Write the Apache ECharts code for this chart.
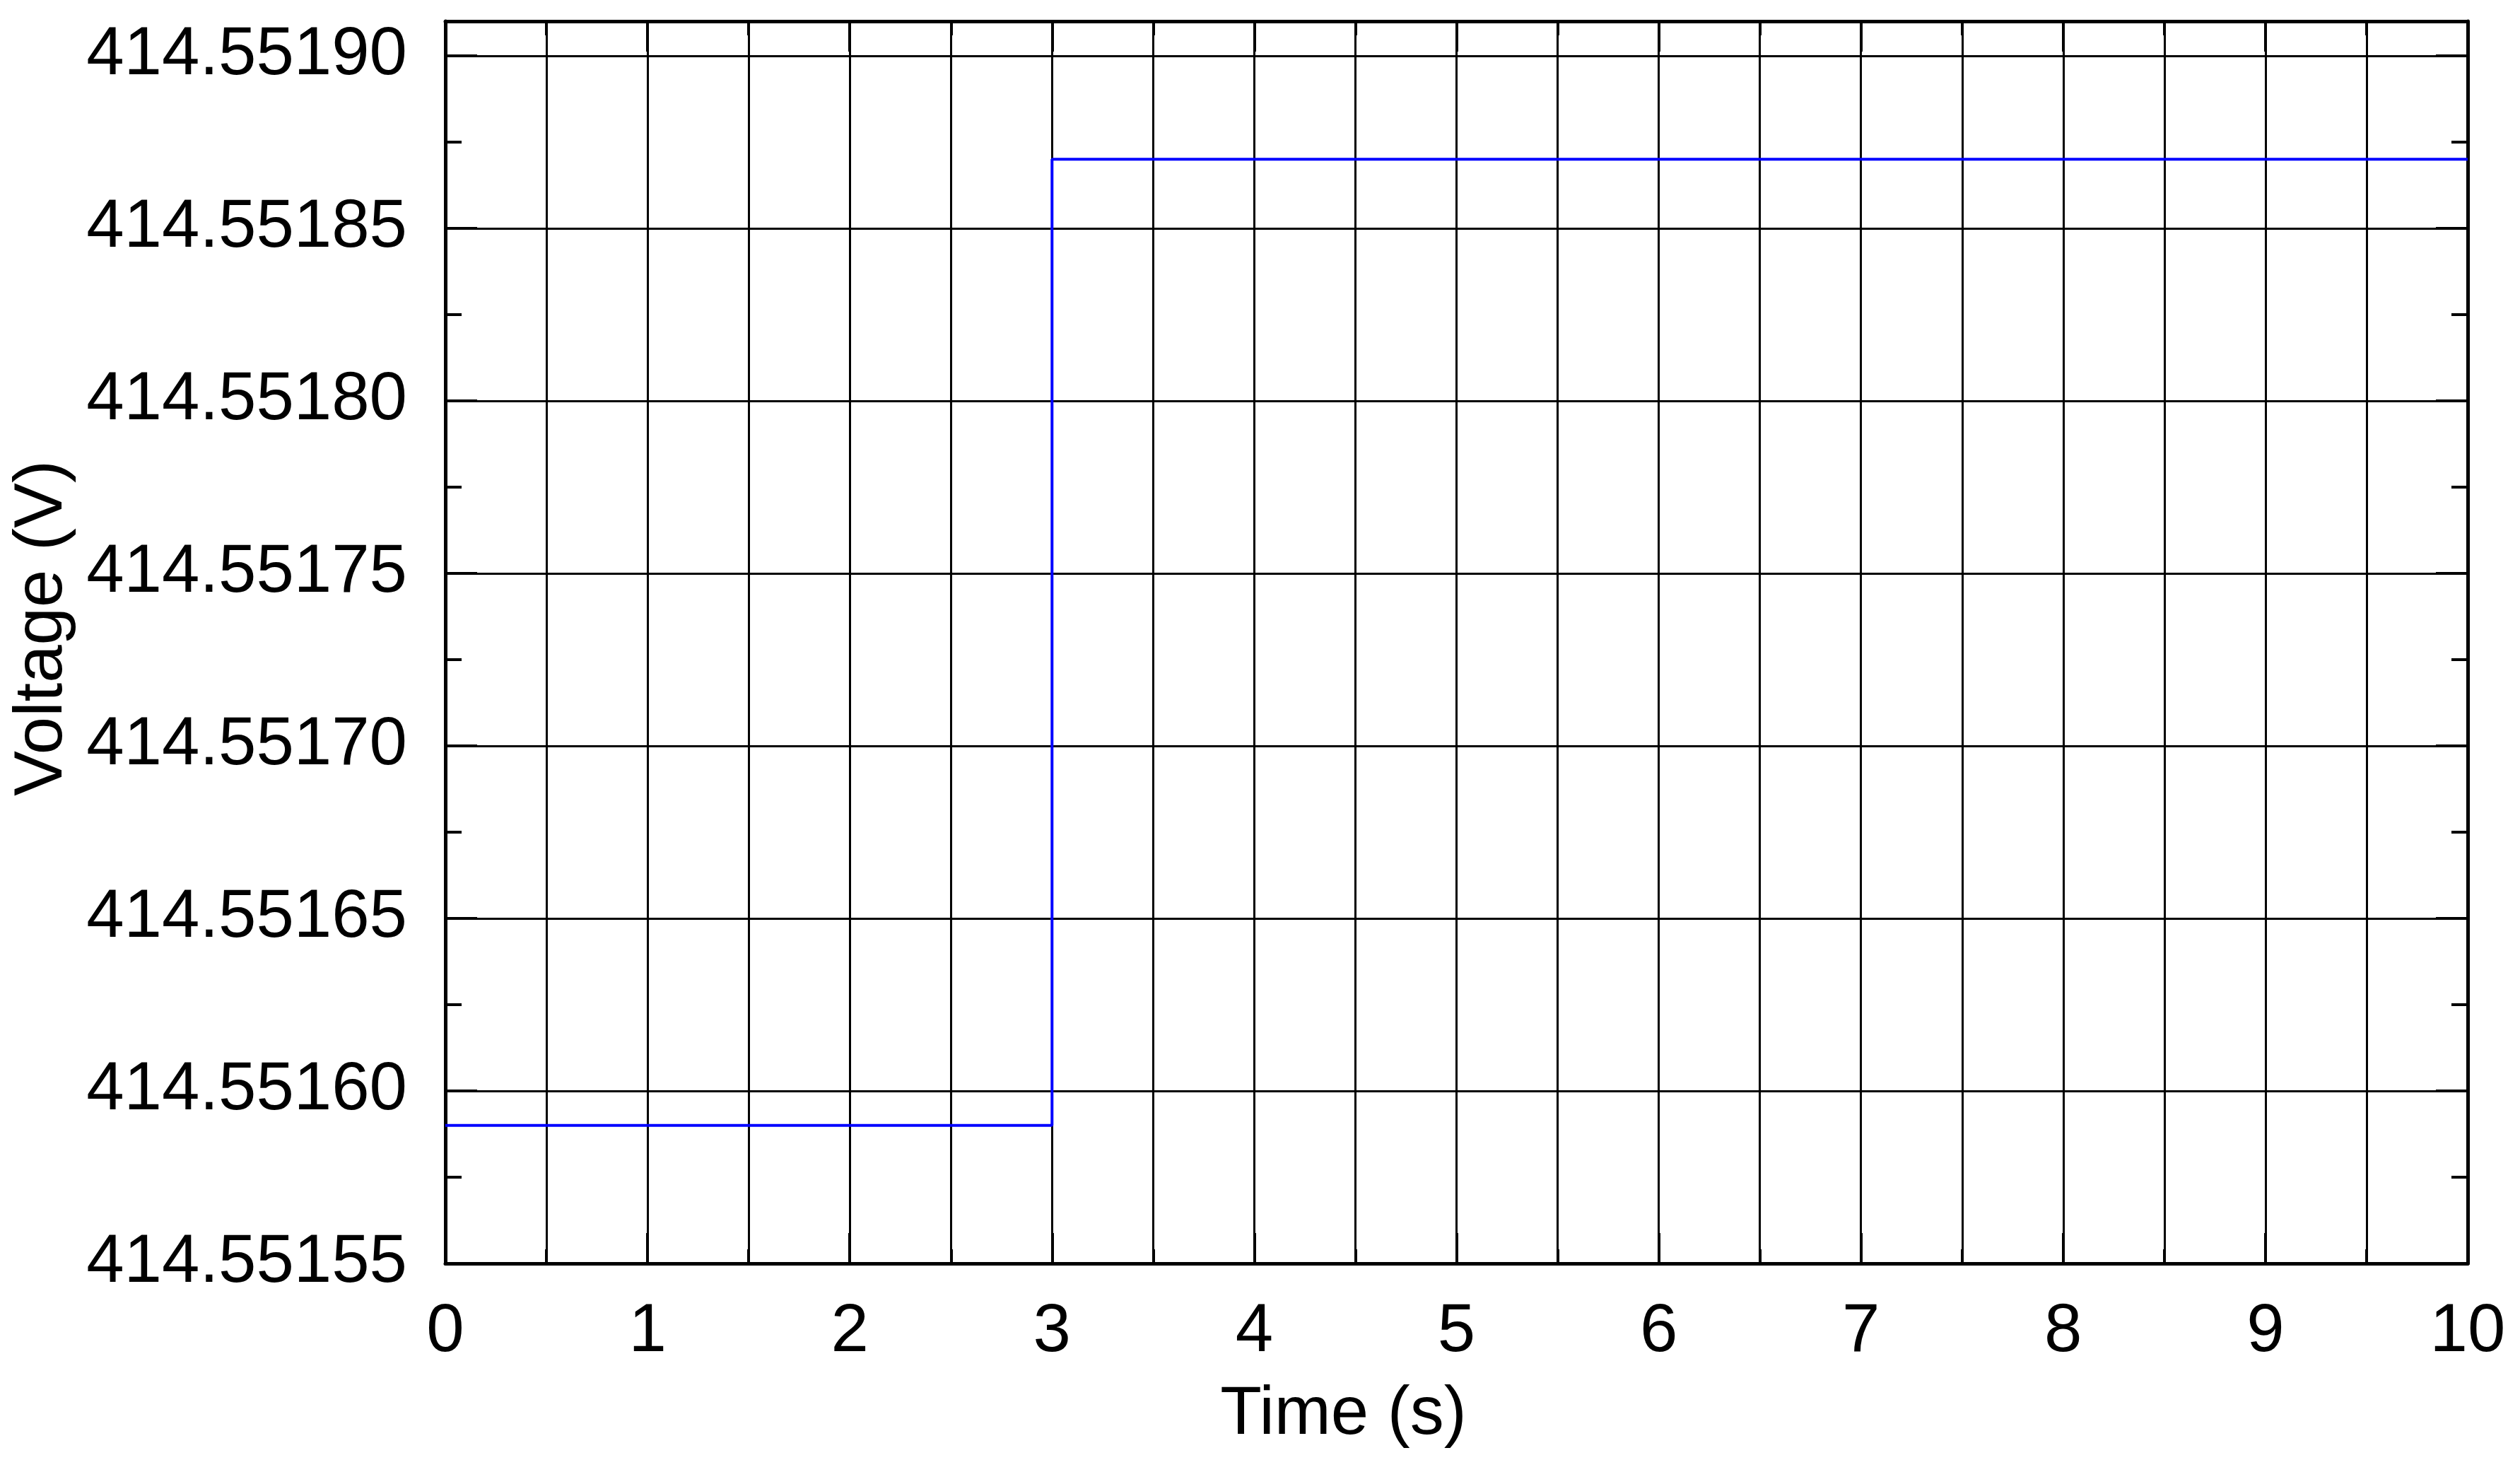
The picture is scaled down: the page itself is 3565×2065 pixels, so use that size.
<!DOCTYPE html>
<html>
<head>
<meta charset="utf-8">
<title>Voltage step</title>
<script src="https://cdn.jsdelivr.net/npm/echarts@6/dist/echarts.min.js"></script>
<style>
  html, body { margin: 0; padding: 0; background: #fff; }
  #chart { width: 3565px; height: 2065px; }
</style>
</head>
<body>
<div id="chart"></div>
<script>
// step signal: value holds until the next point
var times = [0, 3, 10];
var voltages = [414.55159, 414.55187, 414.55187];

var yMin = 414.55155;
var yMax = 414.55191;
var yStep = 0.00005;
var xMin = 0;
var xMax = 10;

var font = "'Liberation Sans', Arial, sans-serif";

function toPoints(xs, ys) {
  var result = [];
  for (var i = 0; i < xs.length; i++) {
    result.push([xs[i], ys[i]]);
  }
  return result;
}

function yLabel(v) {
  var k = Math.round(v / yStep);
  if (Math.abs(k * yStep - v) > 1e-9) return '';
  return v.toFixed(5);
}

function yTicks(position, step, len, main) {
  return {
    type: 'value',
    position: position,
    min: yMin,
    max: yMax,
    interval: step,
    axisLine: { show: main, onZero: false, lineStyle: { color: '#000', width: 5 } },
    axisTick: { show: true, inside: true, length: len, lineStyle: { color: '#000', width: 4 } },
    axisLabel: { show: false },
    splitLine: { show: false }
  };
}

var mainY = {
  type: 'value',
  position: 'left',
  min: yMin,
  max: yMax,
  interval: yStep,
  name: 'Voltage (V)',
  nameLocation: 'middle',
  nameGap: 521,
  nameTextStyle: { fontFamily: font, fontSize: 96, color: '#000', padding: [0, 0, 0, 40] },
  axisLine: { show: true, onZero: false, lineStyle: { color: '#000', width: 5 } },
  axisTick: { show: true, inside: true, length: 45, lineStyle: { color: '#000', width: 4 } },
  axisLabel: { fontFamily: font, fontSize: 96, color: '#000', margin: 54, formatter: yLabel },
  splitLine: { show: true, lineStyle: { color: '#000', width: 3 } }
};

var xBottom = {
  type: 'value',
  position: 'bottom',
  min: xMin,
  max: xMax,
  interval: 1,
  name: 'Time (s)',
  nameLocation: 'middle',
  nameGap: 167,
  nameTextStyle: { fontFamily: font, fontSize: 96, color: '#000', padding: [0, 320, 0, 0] },
  axisLine: { show: true, onZero: false, lineStyle: { color: '#000', width: 5 } },
  axisTick: { show: true, inside: true, length: 43, lineStyle: { color: '#000', width: 4 } },
  minorTick: { show: true, splitNumber: 2, length: 20, lineStyle: { color: '#000', width: 4 } },
  axisLabel: { fontFamily: font, fontSize: 96, color: '#000', margin: 50 },
  splitLine: { show: true, lineStyle: { color: '#000', width: 3 } },
  minorSplitLine: { show: true, lineStyle: { color: '#000', width: 3 } }
};

var xTop = {
  type: 'value',
  position: 'top',
  min: xMin,
  max: xMax,
  interval: 1,
  axisLine: { show: true, onZero: false, lineStyle: { color: '#000', width: 5 } },
  axisTick: { show: true, inside: true, length: 43, lineStyle: { color: '#000', width: 4 } },
  minorTick: { show: true, splitNumber: 2, length: 20, lineStyle: { color: '#000', width: 4 } },
  axisLabel: { show: false },
  splitLine: { show: false }
};

echarts.init(document.getElementById('chart')).setOption({
  animation: false,
  backgroundColor: '#fff',
  grid: { left: 630, right: 74, top: 30, bottom: 278 },
  xAxis: [xBottom, xTop],
  yAxis: [
    mainY,
    yTicks('left', yStep / 2, 23, false),
    yTicks('right', yStep, 45, true),
    yTicks('right', yStep / 2, 23, false)
  ],
  series: [
    {
      type: 'line',
      xAxisIndex: 0,
      yAxisIndex: 0,
      step: 'end',
      showSymbol: false,
      data: toPoints(times, voltages),
      lineStyle: { color: '#0000ff', width: 4 },
      z: 3
    }
  ]
});
</script>
</body>
</html>
